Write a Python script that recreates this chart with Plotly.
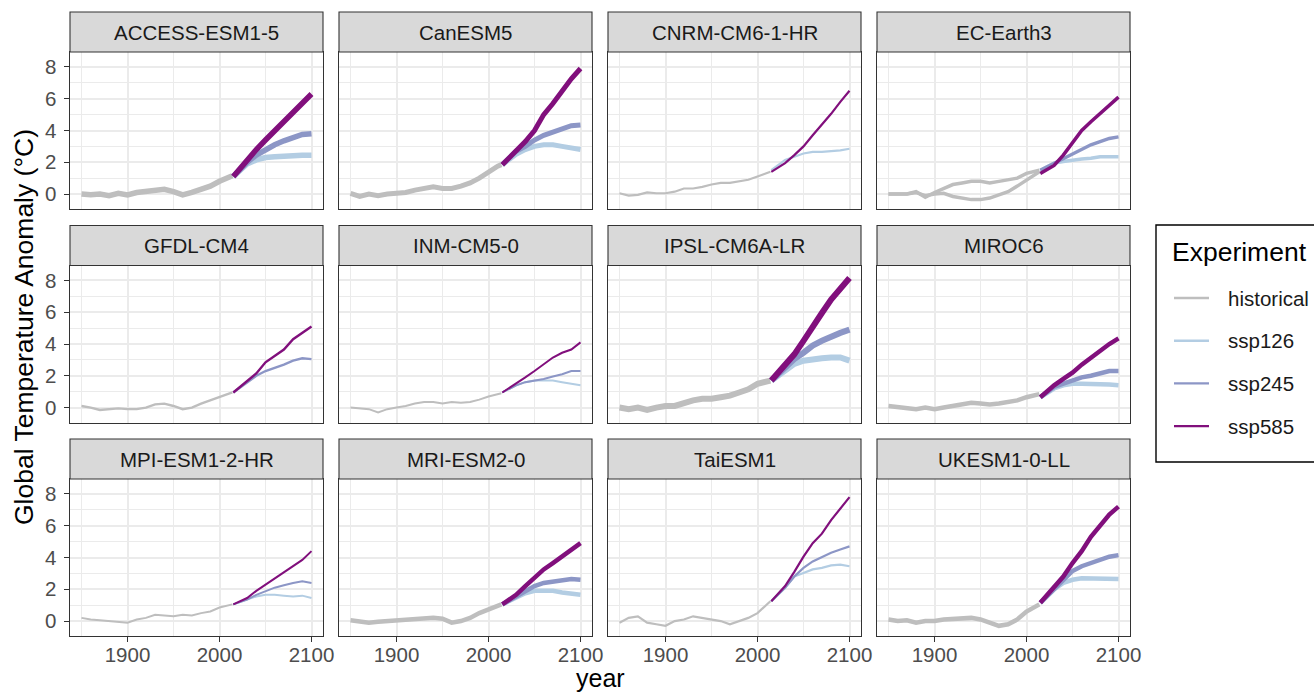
import plotly.graph_objects as go

# ---------------- data ----------------
MODELS = ["ACCESS-ESM1-5", "CanESM5", "CNRM-CM6-1-HR", "EC-Earth3",
          "GFDL-CM4", "INM-CM5-0", "IPSL-CM6A-LR", "MIROC6",
          "MPI-ESM1-2-HR", "MRI-ESM2-0", "TaiESM1", "UKESM1-0-LL"]
EXPERIMENTS = ["historical", "ssp126", "ssp245", "ssp585"]

HIST_YEARS = [1850, 1860, 1870, 1880, 1890, 1900, 1910, 1920, 1930, 1940,
              1950, 1960, 1970, 1980, 1990, 2000, 2010, 2014]
SSP_YEARS = [2015, 2030, 2040, 2050, 2060, 2070, 2080, 2090, 2100]

ACCESS_hist = [0.0, -0.05, 0.0, -0.1, 0.05, -0.05, 0.1, 0.15, 0.2, 0.3, 0.15, -0.05, 0.1, 0.3, 0.5, 0.8, 1.05, 1.15]
ACCESS_126 = [1.1, 1.9, 2.15, 2.3, 2.35, 2.4, 2.4, 2.45, 2.45]
ACCESS_245 = [1.1, 2.0, 2.45, 2.8, 3.1, 3.35, 3.55, 3.75, 3.8]
ACCESS_585 = [1.1, 2.2, 2.8, 3.4, 4.0, 4.6, 5.2, 5.8, 6.3]

CAN_hist = [0.05, -0.15, 0.0, -0.1, 0.0, 0.05, 0.1, 0.25, 0.35, 0.45, 0.35, 0.35, 0.5, 0.7, 1.0, 1.4, 1.75, 1.85]
CAN_126 = [1.85, 2.5, 2.8, 3.0, 3.1, 3.1, 3.0, 2.9, 2.8]
CAN_245 = [1.85, 2.7, 3.0, 3.4, 3.7, 3.9, 4.1, 4.3, 4.35]
CAN_585 = [1.85, 2.7, 3.3, 4.0, 5.0, 5.7, 6.5, 7.25, 7.9]

CNRM_hist = [0.05, -0.1, -0.05, 0.1, 0.05, 0.05, 0.15, 0.35, 0.35, 0.45, 0.6, 0.7, 0.7, 0.8, 0.9, 1.1, 1.3, 1.4]
CNRM_126 = [1.5, 2.15, 2.35, 2.55, 2.65, 2.65, 2.7, 2.75, 2.85]
CNRM_585 = [1.4, 1.95, 2.45, 3.0, 3.7, 4.35, 5.05, 5.8, 6.5]

EC_hist_a = [0.0, 0.0, 0.0, 0.15, -0.2, 0.1, 0.35, 0.6, 0.7, 0.8, 0.8, 0.7, 0.8, 0.9, 1.0, 1.3, 1.45, 1.5]
EC_hist_b = [0.0, 0.0, 0.0, 0.1, -0.1, 0.0, 0.05, -0.15, -0.25, -0.35, -0.35, -0.25, -0.05, 0.15, 0.5, 0.9, 1.25, 1.4]
EC_126 = [1.5, 1.95, 2.05, 2.15, 2.2, 2.25, 2.35, 2.35, 2.35]
EC_245 = [1.5, 1.95, 2.25, 2.55, 2.8, 3.1, 3.3, 3.5, 3.6]
EC_585 = [1.3, 1.8, 2.45, 3.2, 4.0, 4.55, 5.05, 5.6, 6.1]

GFDL_hist = [0.1, 0.0, -0.15, -0.1, -0.05, -0.1, -0.1, 0.0, 0.2, 0.25, 0.1, -0.1, 0.0, 0.25, 0.45, 0.65, 0.85, 0.95]
GFDL_245 = [0.95, 1.6, 2.0, 2.3, 2.5, 2.7, 2.95, 3.1, 3.05]
GFDL_585 = [0.95, 1.7, 2.15, 2.85, 3.25, 3.65, 4.3, 4.7, 5.1]

INM_hist = [0.0, -0.05, -0.1, -0.3, -0.1, 0.0, 0.1, 0.25, 0.35, 0.35, 0.25, 0.35, 0.3, 0.35, 0.5, 0.7, 0.85, 0.9]
INM_126 = [0.95, 1.4, 1.6, 1.7, 1.7, 1.7, 1.6, 1.5, 1.4]
INM_245 = [0.95, 1.4, 1.6, 1.7, 1.8, 1.95, 2.1, 2.3, 2.3]
INM_585 = [0.95, 1.5, 1.9, 2.3, 2.7, 3.15, 3.45, 3.65, 4.1]

IPSL_hist = [0.0, -0.1, 0.0, -0.15, 0.0, 0.1, 0.1, 0.3, 0.45, 0.55, 0.55, 0.65, 0.75, 0.95, 1.15, 1.5, 1.65, 1.7]
IPSL_126 = [1.7, 2.4, 2.75, 2.95, 3.05, 3.1, 3.15, 3.15, 2.95]
IPSL_245 = [1.7, 2.5, 3.05, 3.45, 3.9, 4.2, 4.5, 4.7, 4.9]
IPSL_585 = [1.7, 2.7, 3.35, 4.2, 5.0, 5.95, 6.8, 7.5, 8.15]

MIROC_hist = [0.1, 0.05, 0.0, -0.1, 0.0, -0.1, 0.0, 0.1, 0.25, 0.3, 0.25, 0.2, 0.25, 0.35, 0.45, 0.65, 0.8, 0.85]
MIROC_126 = [0.65, 1.2, 1.4, 1.5, 1.5, 1.5, 1.5, 1.45, 1.4]
MIROC_245 = [0.65, 1.3, 1.5, 1.7, 1.9, 2.0, 2.15, 2.3, 2.3]
MIROC_585 = [0.65, 1.4, 1.8, 2.2, 2.7, 3.15, 3.55, 4.0, 4.35]

MPI_hist = [0.2, 0.1, 0.05, 0.0, -0.05, -0.1, 0.1, 0.2, 0.4, 0.35, 0.3, 0.4, 0.35, 0.5, 0.6, 0.85, 1.0, 1.05]
MPI_126 = [1.05, 1.35, 1.55, 1.65, 1.65, 1.6, 1.55, 1.6, 1.45]
MPI_245 = [1.05, 1.35, 1.65, 1.9, 2.1, 2.25, 2.4, 2.5, 2.4]
MPI_585 = [1.05, 1.45, 1.9, 2.3, 2.7, 3.05, 3.45, 3.85, 4.4]

MRI_hist = [0.05, 0.0, -0.1, -0.05, 0.0, 0.0, 0.05, 0.15, 0.2, 0.2, 0.15, -0.1, 0.0, 0.2, 0.5, 0.75, 0.95, 1.05]
MRI_126 = [1.05, 1.45, 1.75, 1.9, 1.9, 1.9, 1.8, 1.75, 1.65]
MRI_245 = [1.05, 1.55, 1.9, 2.2, 2.4, 2.5, 2.6, 2.65, 2.6]
MRI_585 = [1.05, 1.65, 2.2, 2.7, 3.25, 3.65, 4.05, 4.5, 4.9]

TAI_hist = [-0.1, 0.2, 0.3, -0.1, -0.2, -0.3, 0.0, 0.1, 0.3, 0.2, 0.1, 0.0, -0.2, 0.0, 0.2, 0.5, 1.05, 1.25]
TAI_126 = [1.25, 2.1, 2.8, 3.0, 3.25, 3.35, 3.5, 3.55, 3.45]
TAI_245 = [1.25, 2.1, 2.8, 3.35, 3.75, 4.05, 4.3, 4.5, 4.7]
TAI_585 = [1.25, 2.2, 3.1, 4.05, 4.9, 5.5, 6.35, 7.1, 7.8]

UK_hist = [0.1, 0.0, 0.05, -0.1, 0.0, 0.0, 0.1, 0.15, 0.2, 0.2, 0.1, -0.1, -0.3, -0.2, 0.1, 0.6, 0.95, 1.05]
UK_126 = [1.15, 2.0, 2.4, 2.6, 2.7, 2.7, 2.7, 2.7, 2.65]
UK_245 = [1.15, 2.0, 2.6, 3.15, 3.45, 3.65, 3.85, 4.05, 4.15]
UK_585 = [1.15, 2.1, 2.8, 3.65, 4.4, 5.3, 6.05, 6.7, 7.2]

# series per model: experiment -> list of member series
SERIES = {
    "ACCESS-ESM1-5": {"historical": [ACCESS_hist], "ssp126": [ACCESS_126], "ssp245": [ACCESS_245], "ssp585": [ACCESS_585]},
    "CanESM5": {"historical": [CAN_hist], "ssp126": [CAN_126], "ssp245": [CAN_245], "ssp585": [CAN_585]},
    "CNRM-CM6-1-HR": {"historical": [CNRM_hist], "ssp126": [CNRM_126], "ssp585": [CNRM_585]},
    "EC-Earth3": {"historical": [EC_hist_a, EC_hist_b], "ssp126": [EC_126], "ssp245": [EC_245], "ssp585": [EC_585]},
    "GFDL-CM4": {"historical": [GFDL_hist], "ssp245": [GFDL_245], "ssp585": [GFDL_585]},
    "INM-CM5-0": {"historical": [INM_hist], "ssp126": [INM_126], "ssp245": [INM_245], "ssp585": [INM_585]},
    "IPSL-CM6A-LR": {"historical": [IPSL_hist], "ssp126": [IPSL_126], "ssp245": [IPSL_245], "ssp585": [IPSL_585]},
    "MIROC6": {"historical": [MIROC_hist], "ssp126": [MIROC_126], "ssp245": [MIROC_245], "ssp585": [MIROC_585]},
    "MPI-ESM1-2-HR": {"historical": [MPI_hist], "ssp126": [MPI_126], "ssp245": [MPI_245], "ssp585": [MPI_585]},
    "MRI-ESM2-0": {"historical": [MRI_hist], "ssp126": [MRI_126], "ssp245": [MRI_245], "ssp585": [MRI_585]},
    "TaiESM1": {"historical": [TAI_hist], "ssp126": [TAI_126], "ssp245": [TAI_245], "ssp585": [TAI_585]},
    "UKESM1-0-LL": {"historical": [UK_hist], "ssp126": [UK_126], "ssp245": [UK_245], "ssp585": [UK_585]},
}

X_TICKS = [1900, 2000, 2100]
Y_TICKS = [0, 2, 4, 6, 8]

# ---------------- styles ----------------
COLORS = {"historical": "#bebebe", "ssp126": "#b3cde3", "ssp245": "#8c96c6", "ssp585": "#810f7c"}
# apparent band thickness (many ensemble members overplotted)
WIDTHS = {"ACCESS-ESM1-5": 5.5, "CanESM5": 5, "CNRM-CM6-1-HR": 2.2, "EC-Earth3": 3.5,
          "GFDL-CM4": 2.4, "INM-CM5-0": 2, "IPSL-CM6A-LR": 6, "MIROC6": 4.5,
          "MPI-ESM1-2-HR": 2, "MRI-ESM2-0": 4.5, "TaiESM1": 2.2, "UKESM1-0-LL": 4.5}

W, H = 1314, 694
FONT = "Liberation Sans"
X0, COLW, PW = 70, 269, 253
Y0, ROWH, PH = 52, 213.5, 157
STRIP = 40
SMALL = 20.5
BIG = 26.5

fig = go.Figure()
layout = {}
shapes = []
annotations = []

for i, model in enumerate(MODELS):
    r, c = divmod(i, 4)
    n = "" if i == 0 else str(i + 1)
    xl = X0 + c * COLW
    xr = xl + PW
    yt = Y0 + r * ROWH
    yb = yt + PH
    for exp in EXPERIMENTS:
        members = SERIES[model].get(exp, [])
        years = HIST_YEARS if exp == "historical" else SSP_YEARS
        for vals in members:
            fig.add_trace(go.Scatter(
                x=years, y=vals, mode="lines", name=exp, showlegend=False,
                line=dict(color=COLORS[exp], width=WIDTHS[model]),
                xaxis="x" + n, yaxis="y" + n))
    bottom = (r == 2)
    left = (c == 0)
    layout["xaxis" + n] = dict(
        domain=[xl / W, xr / W], anchor="y" + n, range=[1837.5, 2112.5],
        tickvals=X_TICKS, showticklabels=bottom, ticks="outside" if bottom else "",
        ticklen=4.5, tickwidth=1.1, tickcolor="#333333",
        tickfont=dict(family=FONT, size=SMALL, color="#4d4d4d"),
        showgrid=True, gridcolor="#ebebeb", gridwidth=1.8,
        minor=dict(tickvals=[1850, 1950, 2050], showgrid=True, gridcolor="#ebebeb", gridwidth=0.9, ticks=""),
        showline=True, linecolor="#333333", linewidth=1.1, mirror=True, zeroline=False,
        ticklabelstandoff=-4, fixedrange=True)
    layout["yaxis" + n] = dict(
        domain=[1 - yb / H, 1 - yt / H], anchor="x" + n, range=[-0.94, 8.94],
        tickvals=Y_TICKS, showticklabels=left, ticks="outside" if left else "",
        ticklen=4.5, tickwidth=1.1, tickcolor="#333333",
        tickfont=dict(family=FONT, size=SMALL, color="#4d4d4d"),
        showgrid=True, gridcolor="#ebebeb", gridwidth=1.8,
        minor=dict(tickvals=[-1, 1, 3, 5, 7], showgrid=True, gridcolor="#ebebeb", gridwidth=0.9, ticks=""),
        showline=True, linecolor="#333333", linewidth=1.1, mirror=True, zeroline=False,
        ticklabelstandoff=4, fixedrange=True)
    # strip header
    shapes.append(dict(type="rect", xref="paper", yref="paper",
                       x0=xl / W, x1=xr / W, y0=1 - yt / H, y1=1 - (yt - STRIP) / H,
                       fillcolor="#d9d9d9", line=dict(color="#333333", width=1.1), layer="above"))
    annotations.append(dict(text=model, xref="paper", yref="paper",
                            x=(xl + xr) / 2 / W, y=1 - (yt - STRIP / 2) / H,
                            xanchor="center", yanchor="middle", showarrow=False,
                            font=dict(family=FONT, size=SMALL, color="#1a1a1a")))

# axis titles
annotations.append(dict(text="year", xref="paper", yref="paper", x=(X0 + 3 * COLW + PW + X0) / 2 / W,
                        y=0, xanchor="center", yanchor="bottom", showarrow=False,
                        font=dict(family=FONT, size=25, color="#000000")))
annotations.append(dict(text="Global Temperature Anomaly (°C)", xref="paper", yref="paper",
                        x=24 / W, y=1 - 327 / H, xanchor="center", yanchor="middle", textangle=-90,
                        showarrow=False, font=dict(family=FONT, size=BIG, color="#000000")))

# legend (drawn)
shapes.append(dict(type="rect", xref="paper", yref="paper", x0=1156 / W, x1=1340 / W,
                   y0=1 - 462 / H, y1=1 - 225 / H, fillcolor="white",
                   line=dict(color="#000000", width=1.4), layer="above"))
annotations.append(dict(text="Experiment", xref="paper", yref="paper", x=1170 / W, y=1 - 252 / H,
                        xanchor="left", yanchor="middle", showarrow=False,
                        font=dict(family=FONT, size=BIG, color="#000000")))
for k, exp in enumerate(EXPERIMENTS):
    yy = 298 + k * 42.7
    shapes.append(dict(type="line", xref="paper", yref="paper", x0=1174 / W, x1=1209 / W,
                       y0=1 - yy / H, y1=1 - yy / H, line=dict(color=COLORS[exp], width=2.4), layer="above"))
    annotations.append(dict(text=exp, xref="paper", yref="paper", x=1226 / W, y=1 - yy / H,
                            xanchor="left", yanchor="middle", showarrow=False,
                            font=dict(family=FONT, size=SMALL, color="#1a1a1a")))

fig.update_layout(width=W, height=H, margin=dict(l=0, r=0, t=0, b=0, autoexpand=False),
                  plot_bgcolor="white", paper_bgcolor="white", showlegend=False,
                  shapes=shapes, annotations=annotations, **layout)
fig.write_html("out.html")
